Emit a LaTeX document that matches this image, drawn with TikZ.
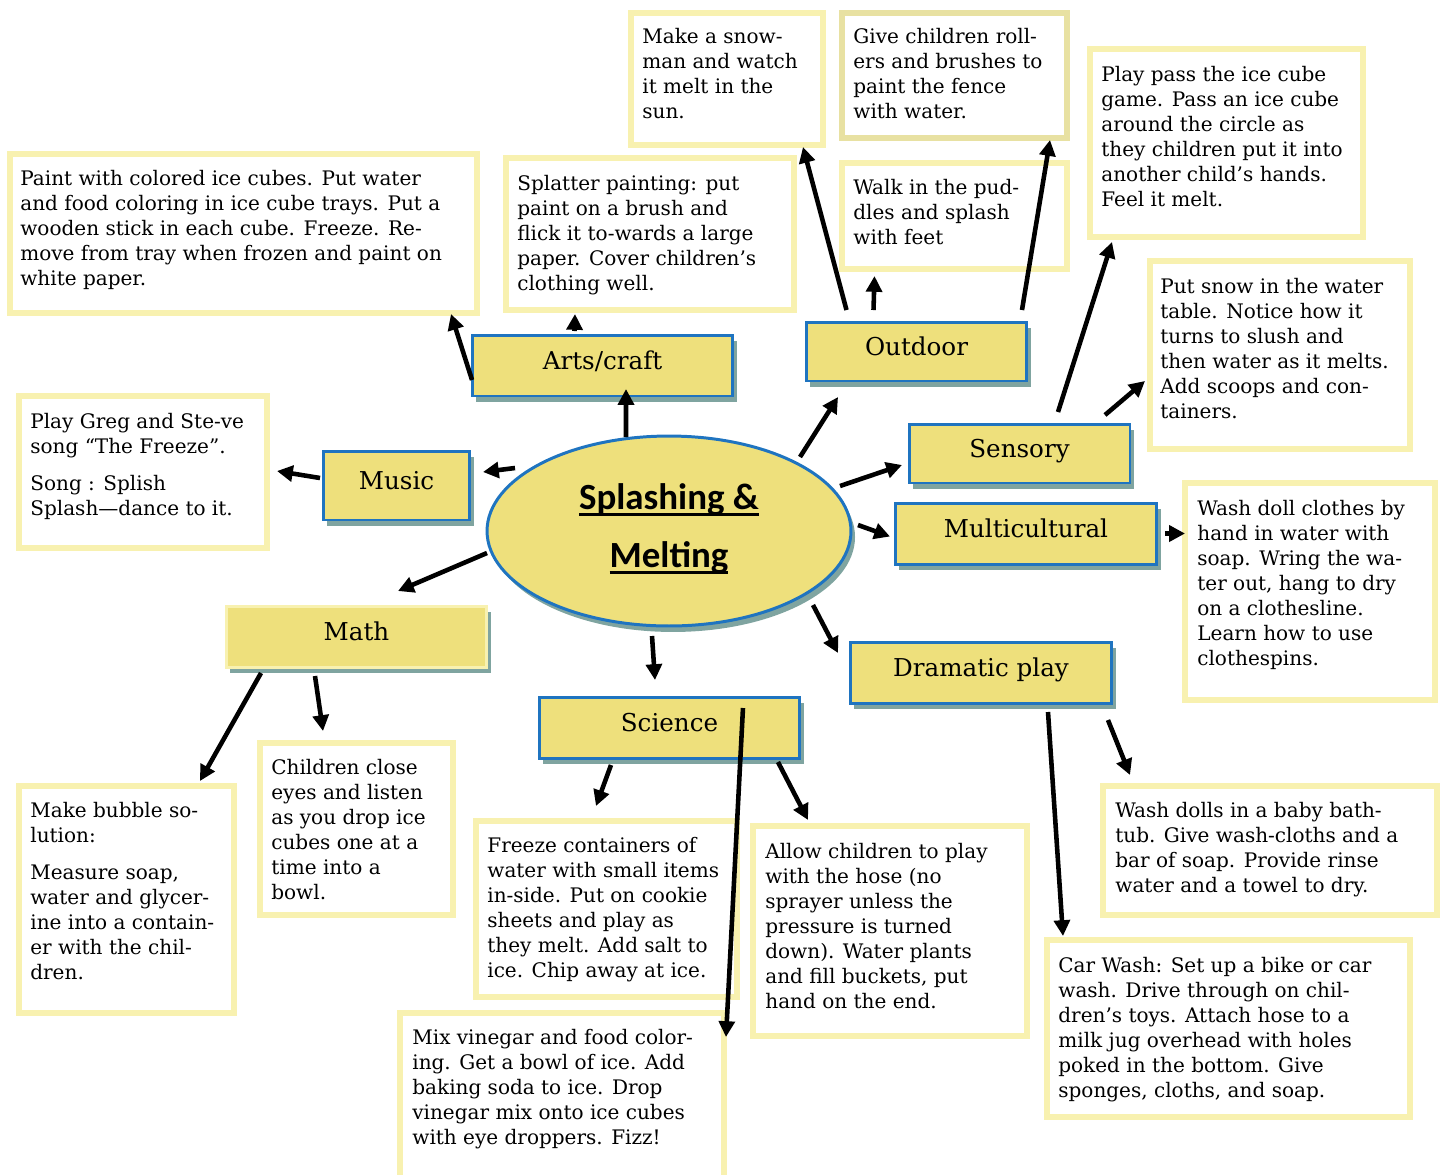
\documentclass[tikz,border=0pt]{standalone}
\usepackage{fontspec}
\setmainfont{DejaVu Serif}
\newfontfamily\titlefont{Carlito}
\usetikzlibrary{arrows.meta,calc,fit,shadows,shapes.geometric}
\definecolor{boxline}{HTML}{F8F1B0}
\definecolor{boxlinedark}{HTML}{E8E1A2}
\definecolor{catfill}{HTML}{EEE07C}
\definecolor{catline}{HTML}{1F74C0}
\definecolor{catshade}{HTML}{7FA4A0}
\newcommand\thickul[1]{\setbox0=\hbox{#1}\rlap{\rule[-3.4pt]{\wd0}{1.4pt}}\box0}
\begin{document}
\begin{tikzpicture}[x=0.02cm,y=-0.02cm,
		tbox/.style={draw=boxline,line width=3.4pt,fill=white,inner sep=0pt,outer sep=0pt},
		txt/.style={anchor=north west,inner sep=0pt,align=left,font=\fontsize{11.4}{14.2}\selectfont},
		cat/.style={draw=catline,line width=1.7pt,fill=catfill,inner sep=0pt,outer sep=0pt,minimum width=5.22cm,minimum height=1.22cm,text height=9pt,text depth=4pt,font=\fontsize{14}{16}\selectfont,drop shadow={shadow xshift=2.3pt,shadow yshift=-3.4pt,fill=catshade,opacity=1}},
		arr/.style={line width=2.6pt,-{Triangle[length=9pt,width=9pt]}}]
	\useasboundingbox (0,0) rectangle (1443,1174);
	\node[tbox, fit={(10,154) (477,313)}] (paint) {};
	\node[txt] (painttxt) at (20,170) {Paint with colored ice cubes. Put water\\and food coloring in ice cube trays. Put a\\wooden stick in each cube. Freeze. Re-\\move from tray when frozen and paint on\\white paper.};
	\node[tbox, fit={(506,158) (794,310)}] (splatter) {};
	\node[txt] (splattertxt) at (517,175) {Splatter painting: put\\paint on a brush and\\flick it to-wards a large\\paper. Cover children’s\\clothing well.};
	\node[tbox, fit={(631,13) (823,145)}] (snowman) {};
	\node[txt] (snowmantxt) at (642,28) {Make a snow-\\man and watch\\it melt in the\\sun.};
	\node[tbox, draw=boxlinedark, fit={(842,13) (1067,138)}] (rollers) {};
	\node[txt] (rollerstxt) at (853,28) {Give children roll-\\ers and brushes to\\paint the fence\\with water.};
	\node[tbox, fit={(842,163) (1067,269)}] (walk) {};
	\node[txt] (walktxt) at (853,179) {Walk in the pud-\\dles and splash\\with feet};
	\node[tbox, fit={(1090,49) (1363,237)}] (pass) {};
	\node[txt] (passtxt) at (1101,66) {Play pass the ice cube\\game. Pass an ice cube\\around the circle as\\they children put it into\\another child’s hands.\\Feel it melt.};
	\node[tbox, fit={(1150,261) (1410,449)}] (snow) {};
	\node[txt] (snowtxt) at (1160,278) {Put snow in the water\\table. Notice how it\\turns to slush and\\then water as it melts.\\Add scoops and con-\\tainers.};
	\node[tbox, fit={(1185,483) (1435,700)}] (clothes) {};
	\node[txt] (clothestxt) at (1197,500) {Wash doll clothes by\\hand in water with\\soap. Wring the wa-\\ter out, hang to dry\\on a clothesline.\\Learn how to use\\clothespins.};
	\node[tbox, fit={(19,396) (267,548)}] (greg) {};
	\node[txt] (gregtxt) at (30,413) {Play Greg and Ste-ve\\song “The Freeze”.\\[6.8pt]Song : Splish\\Splash—dance to it.};
	\node[tbox, fit={(19,786) (234,1013)}] (bubble) {};
	\node[txt] (bubbletxt) at (30,802) {Make bubble so-\\lution:\\[6.8pt]Measure soap,\\water and glycer-\\ine into a contain-\\er with the chil-\\dren.};
	\node[tbox, fit={(260,743) (453,915)}] (listen) {};
	\node[txt] (listentxt) at (271,759) {Children close\\eyes and listen\\as you drop ice\\cubes one at a\\time into a\\bowl.};
	\node[tbox, fit={(476,821) (737,997)}] (freeze) {};
	\node[txt] (freezetxt) at (487,837) {Freeze containers of\\water with small items\\in-side. Put on cookie\\sheets and play as\\they melt. Add salt to\\ice. Chip away at ice.};
	\node[tbox, fit={(400,1013) (724,1185)}] (vinegar) {};
	\node[txt] (vinegartxt) at (412,1029) {Mix vinegar and food color-\\ing. Get a bowl of ice. Add\\baking soda to ice. Drop\\vinegar mix onto ice cubes\\with eye droppers. Fizz!};
	\node[tbox, fit={(753,826) (1027,1036)}] (hose) {};
	\node[txt] (hosetxt) at (765,843) {Allow children to play\\with the hose (no\\sprayer unless the\\pressure is turned\\down). Water plants\\and fill buckets, put\\hand on the end.};
	\node[tbox, fit={(1103,786) (1437,915)}] (bath) {};
	\node[txt] (bathtxt) at (1115,802) {Wash dolls in a baby bath-\\tub. Give wash-cloths and a\\bar of soap. Provide rinse\\water and a towel to dry.};
	\node[tbox, fit={(1047,940) (1410,1117)}] (carwash) {};
	\node[txt] (carwashtxt) at (1058,957) {Car Wash: Set up a bike or car\\wash. Drive through on chil-\\dren’s toys. Attach hose to a\\milk jug overhead with holes\\poked in the bottom. Give\\sponges, cloths, and soap.};
	\node[cat] (arts) at (602.5,365.5) {Arts/craft};
	\node[cat, minimum width=4.42cm, minimum height=1.18cm] (outdoor) at (916.5,351.5) {Outdoor};
	\node[cat, minimum width=2.94cm, minimum height=1.38cm] (music) at (396.5,485.5) {Music};
	\node[cat, minimum width=4.42cm, minimum height=1.18cm] (sensory) at (1019.5,453.5) {Sensory};
	\node[cat, minimum width=5.24cm] (multi) at (1026,533.5) {Multicultural};
	\node[cat, draw=boxline] (math) at (356.5,636.5) {Math};
	\node[cat] (science) at (669.5,727.5) {Science};
	\node[cat, minimum width=5.24cm] (drama) at (981,672.5) {Dramatic play};
	\node[ellipse, draw=catline, line width=1.7pt, fill=catfill, minimum width=7.28cm, minimum height=3.8cm, inner sep=0pt, outer sep=0pt, drop shadow={shadow xshift=2.3pt,shadow yshift=-3.4pt,fill=catshade,opacity=1}] (ell) at (669,531) {};
	\node[align=center, font=\titlefont\bfseries\fontsize{21}{32.9}\selectfont] (title) at (669,529) {\thickul{Splashing \&}\\\thickul{Melting}};
	\draw[arr] ($(ell.center)+(-43,-94)$) -- ($(arts.south)+(23.5,-7)$);
	\draw[arr] ($(arts.south west)+(0,-16)$) -- ($(paint.south east)+(-26,1)$);
	\draw[arr] ($(arts.north)+(-28,-4)$) -- ($(splatter.south)+(-75,4)$);
	\draw[arr] ($(outdoor.north)+(-70,-12)$) -- ($(snowman.south east)+(-20,2)$);
	\draw[arr] ($(outdoor.north)+(-43,-12)$) -- ($(walk.south)+(-80,7)$);
	\draw[arr] ($(outdoor.north east)+(-5,-12)$) -- ($(rollers.south east)+(-17,2)$);
	\draw[arr] ($(ell.center)+(131,-74)$) -- ($(outdoor.south west)+(32,16)$);
	\draw[arr] ($(sensory.north)+(38.5,-12)$) -- ($(pass.south west)+(22,5)$);
	\draw[arr] ($(sensory.north east)+(-25,-9)$) -- ($(snow.west)+(-5,26)$);
	\draw[arr] ($(ell.center)+(171,-45)$) -- ($(sensory.west)+(-7,11.5)$);
	\draw[arr] ($(ell.center)+(189,-6)$) -- ($(multi.west)+(-5,3)$);
	\draw[arr] ($(multi.east)+(8,0)$) -- (clothes.west |- multi.east);
	\draw[arr] ($(ell.center)+(144,74)$) -- ($(drama.north west)+(-12,11)$);
	\draw[arr] ($(drama.south)+(67,9)$) -- ($(carwash.north west)+(16,-4)$);
	\draw[arr] ($(drama.south east)+(-4,17)$) -- ($(bath.north west)+(27,-11)$);
	\draw[arr] ($(ell.center)+(-17,105)$) -- ($(science.north)+(-14.5,-17)$);
	\draw[arr] ($(science.north east)+(-57,11)$) -- ($(vinegar.north east)+(2,24)$);
	\draw[arr] ($(science.south)+(-58.5,7)$) -- ($(freeze.north)+(-10.5,-15)$);
	\draw[arr] ($(science.south east)+(-22,4)$) -- ($(hose.north west)+(55,-6)$);
	\draw[arr] ($(ell.center)+(-182,22)$) -- ($(math.north)+(41.5,-15)$);
	\draw[arr] ($(ell.center)+(-154,-63)$) -- ($(music.east)+(13,-13.5)$);
	\draw[arr] ($(music.west)+(-3,-7.5)$) -- ($(greg.east)+(10,-1)$);
	\draw[arr] ($(math.south west)+(35,6)$) -- ($(bubble.north east)+(-34,-5)$);
	\draw[arr] ($(math.south)+(-41.5,9)$) -- ($(listen.north)+(-33.5,-12)$);
\end{tikzpicture}
\end{document}
